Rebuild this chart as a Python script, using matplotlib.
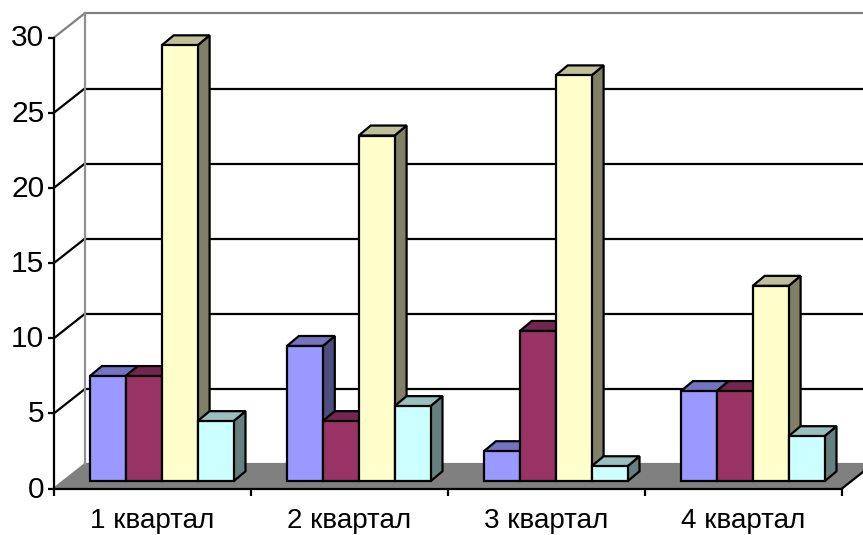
import matplotlib
matplotlib.use('Agg')
import matplotlib.pyplot as plt
from matplotlib.patches import Polygon
from matplotlib.transforms import ScaledTranslation

plt.rcParams['font.family'] = ['Liberation Sans', 'DejaVu Sans']

quarters = ['1 квартал', '2 квартал', '3 квартал', '4 квартал']
series_a = [7, 9, 2, 6]
series_b = [7, 4, 10, 6]
series_c = [29, 23, 27, 13]
series_d = [4, 5, 1, 3]
y_ticks = [0, 5, 10, 15, 20, 25, 30]

front_colors = ['#9999FF', '#993366', '#FFFFCC', '#CCFFFF']
top_colors = ['#7373BF', '#732650', '#BFBF99', '#99BFBF']
side_colors = ['#4D4D80', '#4D1A33', '#808066', '#668080']

W, H = 863, 535
fig = plt.figure(figsize=(W / 100, H / 100), dpi=100)
ax = fig.add_axes([54 / W, 1 - 488.5 / H, 788 / W, 451 / H])
ax.set_xlim(0, 4)
ax.set_ylim(0, 30)

# sizes in axis units (one category = 197px, one y unit = 15px)
wall_dx = 30.5 / 197
wall_dy = 24 / 15.03
bar_dx = 12 / 197
bar_dy = 10 / 15.03
bar_w = 35.9 / 197
bar_lift = 7.2 / 15.03
edge = 1.6

# floor
ax.add_patch(Polygon([(0, 0), (wall_dx, wall_dy), (4 + wall_dx, wall_dy), (4, 0)],
                     facecolor='#808080', edgecolor='none', clip_on=False, zorder=1))
ax.plot([4, 4 + wall_dx], [0, wall_dy], color='black', lw=edge, clip_on=False, zorder=2)

# walls and gridlines
for t in y_ticks:
    c = '#808080' if t in (0, 30) else 'black'
    ax.plot([0, wall_dx], [t, t + wall_dy], color=c, lw=edge, clip_on=False, zorder=2)
    ax.plot([wall_dx, 4 + wall_dx], [t + wall_dy, t + wall_dy], color=c, lw=edge,
            clip_on=False, zorder=2)
ax.plot([wall_dx, wall_dx], [wall_dy, 30 + wall_dy], color='#909090', lw=edge,
        clip_on=False, zorder=2)

# bars, left to right so nearer neighbours hide the side faces
all_series = [series_a, series_b, series_c, series_d]
z = 3
for i in range(len(quarters)):
    for j, vals in enumerate(all_series):
        x0 = i + bar_w * (j + 1)
        x1 = x0 + bar_w
        y0 = bar_lift
        y1 = vals[i] + bar_lift
        side = [(x1, y0), (x1 + bar_dx, y0 + bar_dy), (x1 + bar_dx, y1 + bar_dy), (x1, y1)]
        top = [(x0, y1), (x0 + bar_dx, y1 + bar_dy), (x1 + bar_dx, y1 + bar_dy), (x1, y1)]
        front = [(x0, y0), (x1, y0), (x1, y1), (x0, y1)]
        for pts, col in ((side, side_colors[j]), (top, top_colors[j]), (front, front_colors[j])):
            ax.add_patch(Polygon(pts, closed=True, facecolor=col, edgecolor='black',
                                 lw=edge, joinstyle='miter', clip_on=False, zorder=z))
            z += 1

ax.set_facecolor('none')
ax.spines['top'].set_visible(False)
ax.spines['right'].set_visible(False)
ax.spines['left'].set_linewidth(edge)
ax.spines['bottom'].set_linewidth(edge)
ax.spines['left'].set_zorder(2)
ax.spines['bottom'].set_zorder(200)

ax.set_yticks(y_ticks)
ax.set_xticks(range(5))
ax.set_xticklabels([])
ax.set_xticks([i + 0.5 for i in range(4)], labels=quarters, minor=True)
ax.tick_params(axis='y', labelsize=21.5, length=4, width=edge, pad=3)
ax.tick_params(axis='x', which='major', length=5, width=edge)
ax.tick_params(axis='x', which='minor', length=0, labelsize=20, pad=14)

# y labels sit a little above their ticks in the original
up = ScaledTranslation(0, 2 / 100, fig.dpi_scale_trans)
for lab in ax.get_yticklabels():
    lab.set_transform(lab.get_transform() + up)

fig.savefig('out.png', dpi=100)
